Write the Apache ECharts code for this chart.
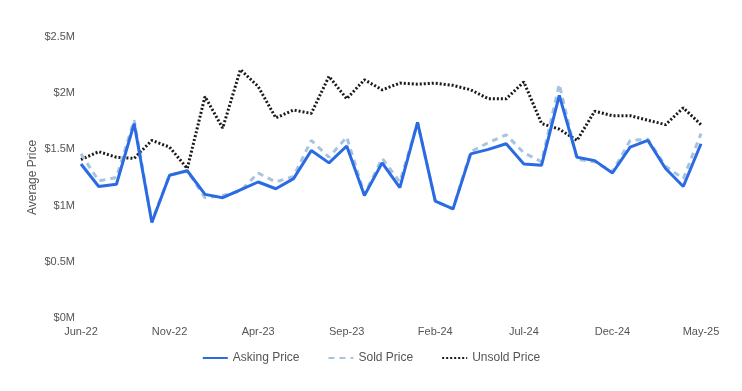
<!DOCTYPE html>
<html><head><meta charset="utf-8">
<script src="https://cdn.jsdelivr.net/npm/echarts@6/dist/echarts.min.js"></script>
<style>html,body{margin:0;padding:0;background:#fff}#c{width:742px;height:391px}</style>
</head><body><div id="c"></div>
<script>
const months = ["Jun-22","Jul-22","Aug-22","Sep-22","Oct-22","Nov-22","Dec-22","Jan-23","Feb-23","Mar-23","Apr-23","May-23","Jun-23","Jul-23","Aug-23","Sep-23","Oct-23","Nov-23","Dec-23","Jan-24","Feb-24","Mar-24","Apr-24","May-24","Jun-24","Jul-24","Aug-24","Sep-24","Oct-24","Nov-24","Dec-24","Jan-25","Feb-25","Mar-25","Apr-25","May-25"];
const askingPrice = [1.37,1.17,1.19,1.73,0.85,1.27,1.31,1.10,1.07,1.14,1.21,1.15,1.24,1.49,1.38,1.53,1.09,1.38,1.16,1.74,1.04,0.97,1.46,1.50,1.55,1.37,1.36,1.98,1.43,1.40,1.29,1.52,1.58,1.33,1.17,1.55];
const soldPrice = [1.46,1.22,1.25,1.76,0.86,1.27,1.31,1.07,1.09,1.13,1.29,1.21,1.26,1.58,1.43,1.61,1.10,1.42,1.21,1.74,1.04,0.97,1.48,1.56,1.63,1.47,1.39,2.08,1.41,1.39,1.30,1.58,1.59,1.35,1.24,1.64];
const unsoldPrice = [1.41,1.48,1.43,1.42,1.58,1.52,1.33,1.97,1.69,2.21,2.06,1.78,1.85,1.82,2.15,1.95,2.12,2.03,2.09,2.08,2.09,2.07,2.03,1.95,1.95,2.10,1.73,1.68,1.58,1.84,1.80,1.80,1.76,1.72,1.87,1.72];
const yTicks = [0,0.5,1,1.5,2,2.5];
const yLabels = ["$0M","$0.5M","$1M","$1.5M","$2M","$2.5M"];

const chart = echarts.init(document.getElementById('c'));
const font = 'Liberation Sans, Arial, sans-serif';
chart.setOption({
  animation:false,
  textStyle:{fontFamily:font},
  grid:{left:81,right:41,top:37,bottom:73,containLabel:false},
  legend:{
    bottom:22,left:'center',itemWidth:25,itemHeight:12,itemGap:28,
    itemStyle:{opacity:0},
    textStyle:{fontFamily:font,fontSize:12,color:'#555'},
    data:['Asking Price','Sold Price','Unsold Price']
  },
  xAxis:{
    type:'category',data:months,boundaryGap:false,
    axisLine:{show:false},axisTick:{show:false},
    axisLabel:{interval:4,color:'#555',fontSize:11,fontFamily:font,margin:8},
    splitLine:{show:false}
  },
  yAxis:{
    type:'value',min:0,max:2.5,interval:0.5,
    name:'Average Price',nameLocation:'middle',nameGap:42,nameMoveOverlap:false,
    nameTextStyle:{color:'#555',fontSize:12,fontFamily:font},
    axisLine:{show:false},axisTick:{show:false},splitLine:{show:false},
    axisLabel:{color:'#555',fontSize:11,fontFamily:font,margin:6,
      formatter:function(v){const i=yTicks.indexOf(v);return i>=0?yLabels[i]:'';}}
  },
  series:[
    {name:'Unsold Price',type:'line',data:unsoldPrice,symbol:'none',z:1,
      itemStyle:{color:'#1a1a1a'},lineStyle:{color:'#1a1a1a',width:3,type:[2,2]}},
    {name:'Sold Price',type:'line',data:soldPrice,symbol:'none',z:2,
      itemStyle:{color:'#a6c3e0'},lineStyle:{color:'#a6c3e0',width:3,type:[6,5]}},
    {name:'Asking Price',type:'line',data:askingPrice,symbol:'none',z:3,
      itemStyle:{color:'#2a6be3'},lineStyle:{color:'#2a6be3',width:3}}
  ]
});
</script></body></html>
